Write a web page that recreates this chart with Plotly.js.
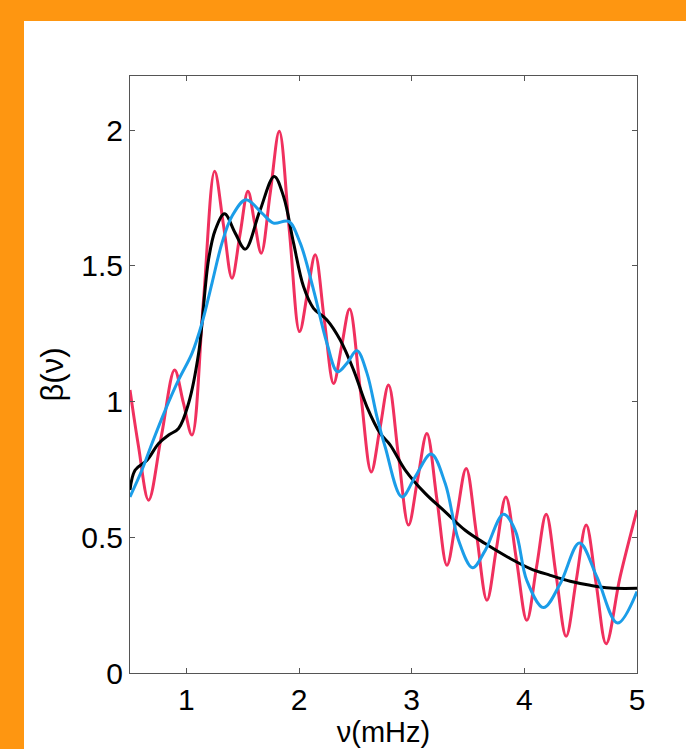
<!DOCTYPE html>
<html><head><meta charset="utf-8">
<script src="https://cdn.plot.ly/plotly-3.0.1.min.js"></script>
<style>
html,body{margin:0;padding:0;background:#fe9611;width:686px;height:749px;overflow:hidden;}
#panel{position:absolute;left:24px;top:21px;width:662px;height:728px;background:#ffffff;}
#chart{position:absolute;left:0;top:0;width:686px;height:749px;}
</style></head><body>
<div id="panel"></div><div id="chart"></div>
<script>
// frequency nu (mHz) and beta(nu) values
const redX = [0.50,0.576,0.665,0.78,0.896,0.973,1.050,1.15,1.251,1.33,1.405,1.476,1.547,1.606,1.665,1.745,1.825,1.915,2.005,2.075,2.144,2.225,2.307,2.378,2.449,2.545,2.641,2.718,2.795,2.883,2.972,3.053,3.135,3.224,3.313,3.398,3.484,3.576,3.668,3.752,3.836,3.929,4.022,4.108,4.194,4.282,4.371,4.46,4.549,4.637,4.726,4.85,5.0];
const redY = [1.043,0.834,0.637,0.877,1.117,0.997,0.877,1.36,1.849,1.65,1.455,1.615,1.775,1.66,1.547,1.77,1.996,1.627,1.258,1.40,1.541,1.30,1.067,1.204,1.341,1.04,0.741,0.90,1.061,0.80,0.545,0.714,0.883,0.64,0.397,0.575,0.754,0.51,0.268,0.458,0.649,0.42,0.194,0.39,0.585,0.36,0.135,0.34,0.545,0.33,0.108,0.354,0.60];

const blackX = [0.50,0.546,0.651,0.754,0.843,0.931,1.02,1.109,1.197,1.257,1.339,1.434,1.523,1.65,1.780,1.863,1.952,2.040,2.129,2.248,2.366,2.484,2.603,2.721,2.810,2.943,3.120,3.298,3.475,3.652,3.874,4.052,4.230,4.407,4.585,4.762,5.0];
const blackY = [0.674,0.748,0.784,0.846,0.877,0.901,0.994,1.178,1.523,1.633,1.692,1.621,1.562,1.70,1.830,1.756,1.584,1.424,1.344,1.301,1.227,1.117,0.981,0.883,0.840,0.748,0.662,0.594,0.526,0.477,0.422,0.385,0.360,0.338,0.323,0.313,0.312];

const blueX = [0.50,0.606,0.695,0.813,0.931,1.050,1.139,1.228,1.316,1.405,1.529,1.671,1.774,1.907,2.011,2.129,2.248,2.342,2.425,2.514,2.603,2.692,2.765,2.913,3.031,3.173,3.298,3.416,3.540,3.653,3.815,3.919,4.022,4.170,4.318,4.489,4.644,4.827,5.0];
const blueY = [0.649,0.748,0.846,0.969,1.080,1.178,1.289,1.437,1.584,1.683,1.744,1.695,1.658,1.664,1.584,1.412,1.215,1.110,1.141,1.188,1.105,0.944,0.833,0.649,0.723,0.807,0.698,0.489,0.388,0.452,0.585,0.526,0.341,0.241,0.329,0.479,0.354,0.184,0.30];

const xTicks = [1,2,3,4,5];
const yTicks = [0,0.5,1,1.5,2];
const yTickText = ['0','0.5','1','1.5','2'];

const mk = (x,y,c) => ({x:x,y:y,type:'scatter',mode:'lines',line:{color:c,width:3,shape:'spline',smoothing:1},hoverinfo:'skip'});
const data = [mk(redX,redY,'#f0305e'), mk(blackX,blackY,'#000000'), mk(blueX,blueY,'#1b9de8')];

const FONT = 'Liberation Sans, Arial, sans-serif';
const axisCommon = {showline:true,linecolor:'#555',linewidth:1,mirror:'ticks',ticks:'inside',ticklen:5,tickcolor:'#555',tickwidth:1,showgrid:false,zeroline:false,tickfont:{family:FONT,size:30,color:'#000'}};

const layout = {
  width:686,height:749,
  paper_bgcolor:'rgba(0,0,0,0)',plot_bgcolor:'rgba(0,0,0,0)',
  margin:{l:130,r:49,t:76,b:76},
  showlegend:false,
  xaxis:Object.assign({},axisCommon,{range:[0.5,5],tickmode:'array',tickvals:xTicks,
    title:{text:'ν(mHz)',font:{family:FONT,size:29,color:'#000'},standoff:5}}),
  yaxis:Object.assign({},axisCommon,{range:[0,2.2],tickmode:'array',tickvals:yTicks,ticktext:yTickText,
    title:{text:'β(ν)',font:{family:FONT,size:31,color:'#000'},standoff:8}})
};
Plotly.newPlot('chart',data,layout,{staticPlot:true,displayModeBar:false});
</script></body></html>
